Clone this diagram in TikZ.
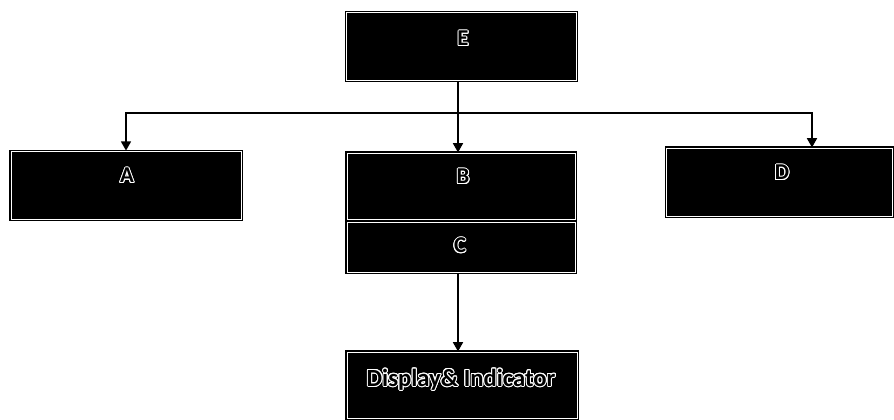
\documentclass[tikz,border=0pt]{standalone}
\usepackage{fontspec}
\setmainfont{Carlito}
\usepackage[copies]{contour}
\contourlength{0.7pt}
\usetikzlibrary{arrows.meta,calc}

\tikzset{
  block/.style={draw=black, double=white, double distance=0.7pt, line width=0.8pt,
    fill=black, inner sep=0pt, text=black, font=\bfseries\fontsize{17}{19}\selectfont},
  label/.style={block, draw=none, fill=none},
  link/.style={line width=1.3pt, draw=black},
  arr/.style={link, -{Triangle[length=7pt,width=7.5pt]}}
}
\newcommand{\outlined}[1]{\contour{white}{#1}}

\begin{document}
\begin{tikzpicture}[x=0.75pt, y=-0.75pt]
  \useasboundingbox (0,0) rectangle (894,419);

  % boxes
  \node[block, minimum width=173pt, minimum height=51.5pt] (E) at (461.5,46.5) {};
  \node[block, minimum width=172.5pt, minimum height=51.5pt] (A) at (126,185.5) {};
  \node[block, minimum width=171pt, minimum height=49.5pt] (B) at (461,186) {};
  \node[block, minimum width=171pt, minimum height=38pt] (C) at (461,247.5) {};
  \node[block, minimum width=170pt, minimum height=51pt] (D) at (779.5,182) {};
  \node[block, minimum width=172.5pt, minimum height=49.5pt] (Disp) at (462,385) {};

  % labels, sitting a little above the box centres
  \node[label] (tE) at (463,39) {\outlined{E}};
  \node[label] (tA) at (127,176) {\outlined{A}};
  \node[label] (tB) at (463,177) {\outlined{B}};
  \node[label] (tC) at (460,246) {\outlined{C}};
  \node[label] (tD) at (782,173) {\outlined{D}};
  \node[label, font=\bfseries\fontsize{18.5}{20}\selectfont] (tDisp) at (461,380) {\outlined{Display\& Indicator}};

  % distribution lines
  \coordinate (hub) at (458,113);
  \coordinate (dcol) at (812,0);
  \draw[link] (E.south -| hub) -- (hub);
  \draw[arr] (hub) -| (A.north);
  \draw[arr] (hub) -| (D.north -| dcol);
  \draw[arr] (hub) -- (B.north -| hub);
  \draw[arr] (C.south -| hub) -- (Disp.north -| hub);
\end{tikzpicture}
\end{document}
